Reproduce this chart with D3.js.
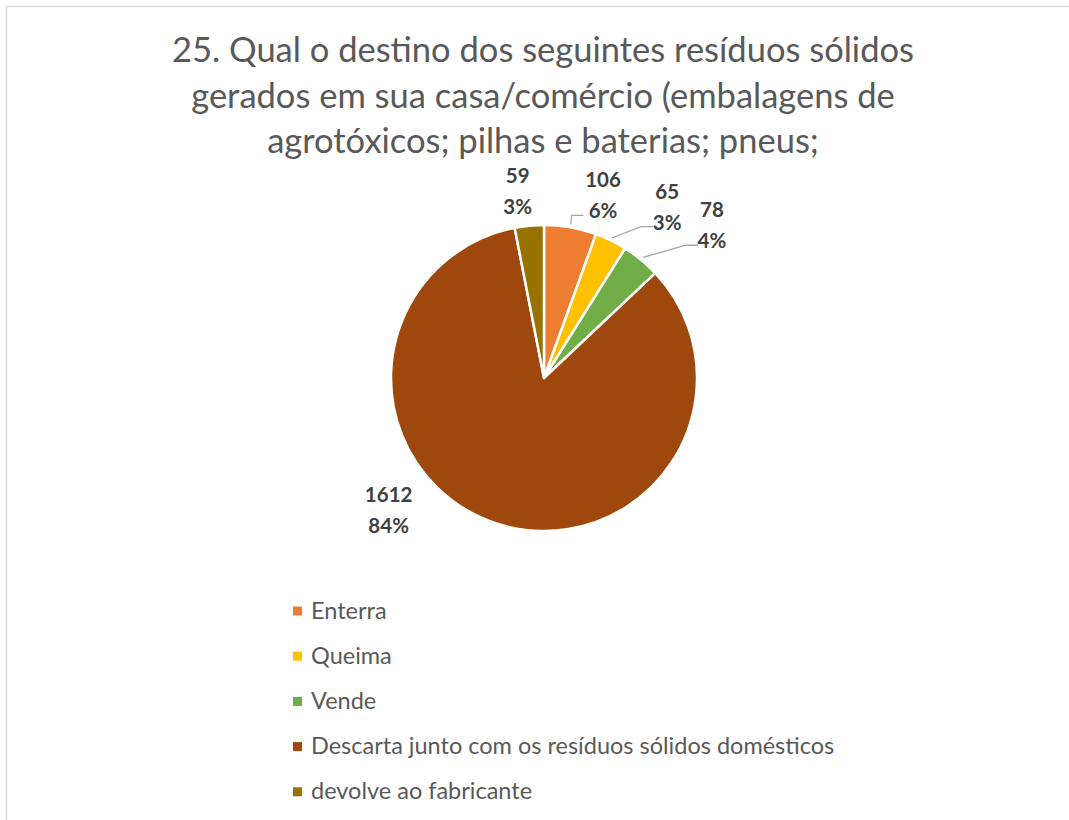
<!DOCTYPE html>
<html>
<head>
<meta charset="utf-8">
<script src="https://cdn.jsdelivr.net/npm/d3@7"></script>
<style>
  html, body { margin: 0; padding: 0; background: #fff; }
  svg { display: block; }
</style>
</head>
<body>
<svg id="chart" width="1069" height="820"></svg>
<script>
'use strict';

// chart data
let titleLines = [
    '25. Qual o destino dos seguintes resíduos sólidos',
    'gerados em sua casa/comércio (embalagens de',
    'agrotóxicos; pilhas e baterias; pneus;'
];
let categories = ['Enterra', 'Queima', 'Vende',
    'Descarta junto com os resíduos sólidos domésticos', 'devolve ao fabricante'];
let values = [106, 65, 78, 1612, 59];
let colors = ['#ED7D31', '#FFC000', '#70AD47', '#9E480E', '#997300'];

// where Excel put each data label (angle in degrees from 12 o'clock, radius)
let labelPlace = [
    {angle: 17.9, r: 192, leader: true},
    {angle: 35.7, r: 211, leader: true},
    {angle: 47.7, r: 227, leader: true},
    {angle: 229.6, r: 204, leader: false},
    {angle: 352, r: 189, leader: false}
];

let width = 1069;
let height = 820;
let cx = 544;
let cy = 378;
let radius = 153;
let textColor = '#595959';
let labelColor = '#404040';
let font = 'Lato, "Open Sans", sans-serif';

let svg = d3.select('#chart');

// outer frame
svg.append('rect')
    .attr('x', 6.5)
    .attr('y', 6.5)
    .attr('width', width + 10)
    .attr('height', height + 10)
    .style('fill', '#fff')
    .style('stroke', '#d9d9d9')
    .style('stroke-width', 1.5);

// title
svg.append('g')
    .selectAll('text')
    .data(titleLines)
    .enter().append('text')
    .attr('x', 543)
    .attr('y', function(d, i) {
        return 62 + i * 45.5;
    })
    .attr('text-anchor', 'middle')
    .style('font-family', font)
    .style('font-size', '34.5px')
    .style('fill', textColor)
    .text(function(d) {
        return d;
    });

let total = d3.sum(values);
let pct = d3.format('.0%');

let pie = d3.pie()
    .sort(null)
    .value(function(d) {
        return d;
    });
let arcs = pie(values);

let arc = d3.arc()
    .innerRadius(0)
    .outerRadius(radius);

let g = svg.append('g')
    .attr('transform', 'translate(' + cx + ',' + cy + ')');

g.selectAll('.slice')
    .data(arcs)
    .enter().append('path')
    .attr('class', 'slice')
    .attr('d', arc)
    .style('fill', function(d, i) {
        return colors[i];
    })
    .style('stroke', '#fff')
    .style('stroke-width', 2.5)
    .style('stroke-linejoin', 'round');

let polar = function(angleDeg, r) {
    let a = angleDeg * Math.PI / 180;
    return [Math.sin(a) * r, -Math.cos(a) * r];
};

// data labels
let labels = g.selectAll('.lbl')
    .data(arcs)
    .enter().append('g')
    .attr('class', 'lbl')
    .attr('transform', function(d, i) {
        let p = polar(labelPlace[i].angle, labelPlace[i].r);
        return 'translate(' + p[0] + ',' + p[1] + ')';
    });

labels.append('text')
    .attr('y', -8)
    .attr('text-anchor', 'middle')
    .style('font-family', font)
    .style('font-weight', 'bold')
    .style('font-size', '20.5px')
    .style('fill', labelColor)
    .text(function(d) {
        return d.value;
    });

labels.append('text')
    .attr('y', 23)
    .attr('text-anchor', 'middle')
    .style('font-family', font)
    .style('font-weight', 'bold')
    .style('font-size', '20.5px')
    .style('fill', labelColor)
    .text(function(d) {
        return pct(d.value / total);
    });

// leader lines for the small slices on the right
g.selectAll('.leader')
    .data(arcs.filter(function(d, i) {
        return labelPlace[i].leader;
    }))
    .enter().append('polyline')
    .attr('class', 'leader')
    .attr('points', function(d) {
        let i = d.index;
        let mid = (d.startAngle + d.endAngle) / 2 * 180 / Math.PI;
        let start = polar(mid, radius + 3);
        let lp = polar(labelPlace[i].angle, labelPlace[i].r);
        let w = String(d.value).length * 5.5;
        let ey = lp[1] + 20;
        let ex = lp[0] - w - 3;
        let elbow = [ex - 12, ey];
        return [start, elbow, [ex, ey]].map(function(p) {
            return p.join(',');
        }).join(' ');
    })
    .style('fill', 'none')
    .style('stroke', '#a6a6a6')
    .style('stroke-width', 1.3);

// legend
let legend = svg.append('g')
    .selectAll('.legend-item')
    .data(categories)
    .enter().append('g')
    .attr('class', 'legend-item')
    .attr('transform', function(d, i) {
        return 'translate(293,' + (611 + i * 45.2) + ')';
    });

legend.append('rect')
    .attr('x', 0)
    .attr('y', -4.5)
    .attr('width', 9)
    .attr('height', 9)
    .style('fill', function(d, i) {
        return colors[i];
    });

legend.append('text')
    .attr('x', 18)
    .attr('y', 7.5)
    .style('font-family', font)
    .style('font-size', '23.5px')
    .style('fill', textColor)
    .text(function(d) {
        return d;
    });
</script>
</body>
</html>
